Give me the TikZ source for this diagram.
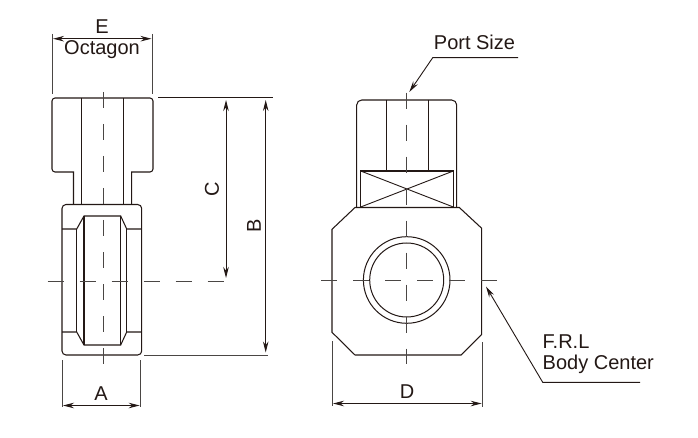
\documentclass[tikz,border=0pt]{standalone}
\usepackage{fontspec}
\setmainfont{Liberation Sans}
\usetikzlibrary{arrows.meta}
\definecolor{ink}{HTML}{231815}
\definecolor{dimgrey}{HTML}{4A4644}
\tikzset{
  outline/.style={draw=ink,line width=1.05pt,line join=miter},
  thin outline/.style={draw=ink,line width=0.9pt},
  centerline/.style={draw=dimgrey,line width=0.9pt,dash pattern=on 16pt off 16pt},
  extline/.style={draw=dimgrey,line width=1pt},
  dimline/.style={draw=ink,line width=0.9pt,{Stealth[length=11pt,width=5.5pt]}-{Stealth[length=11pt,width=5.5pt]}},
  leader/.style={draw=ink,line width=0.9pt,-{Stealth[length=11pt,width=5.5pt]}},
  label/.style={text=ink,inner sep=0pt,font=\fontsize{20}{24}\selectfont}
}
\begin{document}
\begin{tikzpicture}[x=1pt,y=-1pt]
\useasboundingbox[fill=white] (0,0) rectangle (698,438);
% --- left view: head
\draw[outline] (73.5,205) -- (73.5,172) -- (55,172) arc[start angle=90,end angle=180,radius=3pt,y radius=-3pt] -- (52,101) arc[start angle=180,end angle=270,radius=3pt,y radius=-3pt] -- (150,98) arc[start angle=270,end angle=360,radius=3pt,y radius=-3pt] -- (153,169) arc[start angle=0,end angle=90,radius=3pt,y radius=-3pt] -- (131.7,172) -- (131.7,205);
\draw[thin outline] (81.7,98) -- (81.7,205) (123.7,98) -- (123.7,205);
% --- left view: body
\draw[outline] (66,204.5) -- (137.7,204.5) arc[start angle=270,end angle=360,radius=4pt,y radius=-4pt] -- (141.7,351) arc[start angle=0,end angle=90,radius=4pt,y radius=-4pt] -- (66,355) arc[start angle=90,end angle=180,radius=4pt,y radius=-4pt] -- (62,208.5) arc[start angle=180,end angle=270,radius=4pt,y radius=-4pt] -- cycle;
\draw[outline] (62,229) -- (76.7,229) -- (84,216) -- (120.7,216) -- (126.7,229) -- (141.7,229);
\draw[outline] (62,332) -- (76.7,332) -- (84,345) -- (120.7,345) -- (126.7,332) -- (141.7,332);
\draw[outline] (76.7,229) -- (76.7,332) (84,216) -- (84,345) (120.7,216) -- (120.7,345) (126.7,229) -- (126.7,332);
\draw[centerline] (103,92) -- (103,364);
\draw[centerline] (47.7,281) -- (224,281);
% --- left view: dimensions
\coordinate (e1t) at (52,34); \coordinate (e1b) at (52,94);
\coordinate (e2t) at (152.3,34); \coordinate (e2b) at (152.3,94);
\draw[extline] (e1t) -- (e1b);
\draw[extline] (e2t) -- (e2b);
\coordinate (ea) at (53,38.7); \coordinate (eb) at (151.5,38.7);
\draw[dimline] (ea) -- (eb);
\node[label] (labE) at (102,26.5) {E};
\node[label] (labOct) at (102,49.5) {Octagon};
\coordinate (t1) at (158.3,97.5); \coordinate (t2) at (272.7,97.5);
\draw[outline] (t1) -- (t2);
\coordinate (b1) at (144,355); \coordinate (b2) at (268,355);
\draw[extline] (b1) -- (b2);
\coordinate (ca) at (226,100); \coordinate (cb) at (226,278);
\draw[dimline] (ca) -- (cb);
\coordinate (ba) at (265.7,100); \coordinate (bb) at (265.7,352.5);
\draw[dimline] (ba) -- (bb);
\node[label,rotate=90] (labC) at (212,189) {C};
\node[label,rotate=90] (labB) at (254,225.5) {B};
\coordinate (a1t) at (62,360); \coordinate (a1b) at (62,407);
\coordinate (a2t) at (140.7,360); \coordinate (a2b) at (140.7,407);
\draw[extline] (a1t) -- (a1b);
\draw[extline] (a2t) -- (a2b);
\coordinate (aa) at (63,405.5); \coordinate (ab) at (139.7,405.5);
\draw[dimline] (aa) -- (ab);
\node[label] (labA) at (101,394) {A};
% --- right view: head
\draw[outline] (356.7,207) -- (356.7,105) arc[start angle=180,end angle=270,radius=5pt,y radius=-5pt] -- (451.7,100) arc[start angle=270,end angle=360,radius=5pt,y radius=-5pt] -- (456.7,207);
\draw[thin outline] (386,100) -- (386,171) (428.3,100) -- (428.3,171);
\draw[outline] (360.7,207) -- (360.7,171) -- (453.3,171) -- (453.3,207);
\draw[thin outline] (360.7,171) -- (453.3,207) (453.3,171) -- (360.7,207);
% --- right view: body
\draw[outline] (355,207.5) -- (459.3,207.5) -- (481.7,228.3) -- (481.7,334.3) -- (461,355) -- (355,355) -- (332,332.3) -- (332,229.3) -- cycle;
\node[draw=ink,line width=1pt,circle,minimum size=86.6pt,inner sep=0pt] (outerc) at (406.7,280) {};
\node[draw=ink,line width=1pt,circle,minimum size=74pt,inner sep=0pt] (innerc) at (406.7,280) {};
\draw[centerline] (406.7,92.7) -- (406.7,364);
\draw[centerline] (321,280) -- (497,280);
% --- right view: dimensions and leaders
\coordinate (d1t) at (332,341); \coordinate (d1b) at (332,406);
\coordinate (d2t) at (482.7,342); \coordinate (d2b) at (482.7,407);
\draw[extline] (d1t) -- (d1b);
\draw[extline] (d2t) -- (d2b);
\coordinate (da) at (333,403.5); \coordinate (db) at (481.7,403.5);
\draw[dimline] (da) -- (db);
\node[label] (labD) at (407,391.5) {D};
\node[label] (labPort) at (474.5,42.5) {Port Size};
\coordinate (p0) at (518,57.7); \coordinate (p1) at (432.7,57.7); \coordinate (p2) at (409.3,92);
\draw[leader] (p0) -- (p1) -- (p2);
\node[label,anchor=west] (labFRL) at (542.5,342) {F.R.L};
\node[label,anchor=west] (labBody) at (542.5,364.5) {Body Center};
\coordinate (f0) at (640,382.3); \coordinate (f1) at (542.7,382.3); \coordinate (f2) at (486,286.5);
\draw[leader] (f0) -- (f1) -- (f2);
\end{tikzpicture}
\end{document}
